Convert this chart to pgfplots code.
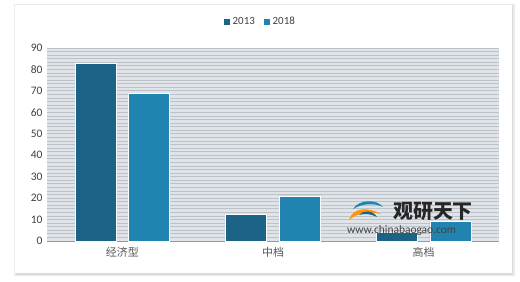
\documentclass[border=0pt]{standalone}
\usepackage{pgfplots}
\pgfplotsset{compat=1.18}
\usepackage{fontspec}
\setmainfont{Carlito}
\newfontfamily\cjk{Noto Sans CJK SC}
\definecolor{cA}{HTML}{1C6487}
\definecolor{cB}{HTML}{2184B0}
\definecolor{bgc}{HTML}{E0E4E9}
\definecolor{gridc}{HTML}{BCC2CA}
\definecolor{txt}{HTML}{404040}
\begin{document}
\begin{tikzpicture}
\useasboundingbox (-47bp,-41bp) rectangle (473bp,241bp);
% outer frame with shadow
\fill[black!8] (-33bp,-35bp) rectangle (468bp,237bp);
\fill[black!14] (-31bp,-34bp) rectangle (466bp,236bp);
\fill[white] (-32bp,-32bp) rectangle (465bp,236bp);
\begin{axis}[
  at={(0,0)}, anchor=south west,
  scale only axis, width=452bp, height=193bp,
  xmin=-0.5, xmax=2.5, ymin=0, ymax=90,
  xtick={0,1,2},
  xticklabels={{\cjk 经济型},{\cjk 中档},{\cjk 高档}},
  ytick={0,10,...,90},
  minor y tick num=5,
  ymajorgrids, yminorgrids,
  major grid style={draw=gridc, line width=0.8bp},
  minor grid style={draw=gridc, line width=0.8bp},
  axis background/.style={fill=bgc},
  axis x line*=bottom, axis y line*=left,
  x axis line style={draw=gray!80, line width=0.8bp},
  y axis line style={draw=none},
  major tick length=0pt, minor tick length=0pt,
  tick label style={font=\fontsize{11.5}{13}\selectfont, text=txt},
  xticklabel style={yshift=-3bp, text=black!65, font=\fontsize{11}{13}\selectfont},
  yticklabel style={xshift=-1bp},
  /pgf/number format/assume math mode=true,
  bar width=0.272,
  legend style={at={(0.471,1.135)}, anchor=center, draw=none, fill=white,
    legend columns=2, font=\fontsize{11}{12}\selectfont, text=txt,
    /tikz/every even column/.append style={column sep=6bp},
    inner sep=4bp},
  legend image code/.code={\fill[#1] (0bp,-3.5bp) rectangle (7bp,3.5bp);},
]
\addplot[ybar, fill=cA, draw=white, line width=0.8bp, bar shift=-0.178] coordinates {(0,83) (1,12.5) (2,4)};
\addlegendentry{2013}
\addplot[ybar, fill=cB, draw=white, line width=0.8bp, bar shift=0.178] coordinates {(0,68.8) (1,21) (2,9)};
\addlegendentry{2018}
\end{axis}
% watermark
\node[anchor=west, font=\cjk\bfseries\fontsize{20}{21}\selectfont, text=black!85, inner sep=0pt] at (346bp,30bp) {观研天下};
\node[anchor=west, font=\fontsize{11.5}{12}\selectfont, text=black!75, inner sep=0pt] at (300bp,10bp) {www.chinabaogao.com};
\fill[orange!85!yellow] (302bp,21bp) .. controls (306bp,34bp) and (322bp,34bp) .. (334bp,27bp) .. controls (322bp,30bp) and (310bp,28bp) .. (302bp,21bp);
\fill[cB] (306bp,32bp) .. controls (312bp,42bp) and (330bp,42bp) .. (336bp,34bp) .. controls (328bp,38bp) and (316bp,38bp) .. (306bp,32bp);
\fill[cA] (312bp,26bp) .. controls (316bp,31bp) and (326bp,31bp) .. (330bp,24bp) .. controls (324bp,27bp) and (318bp,28bp) .. (312bp,26bp);
\end{tikzpicture}
\end{document}
